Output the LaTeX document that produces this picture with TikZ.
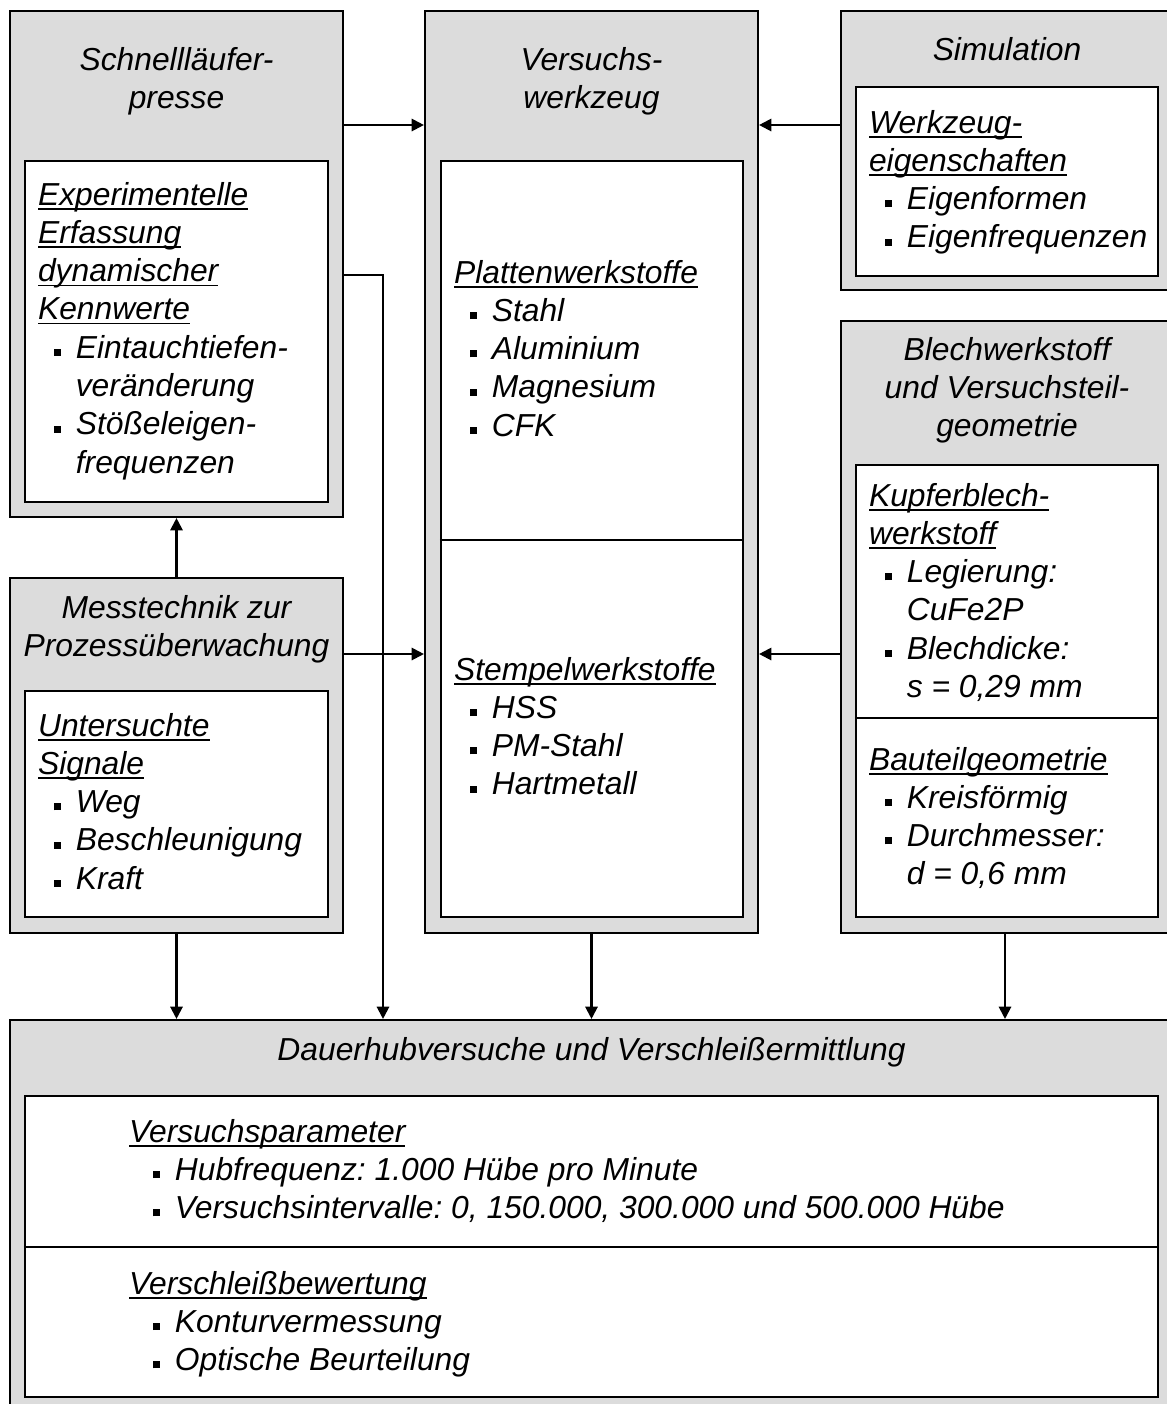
\documentclass[tikz,border=0pt]{standalone}
\usepackage{fontspec}
\setmainfont{Liberation Sans}
\usetikzlibrary{arrows.meta,fit,calc}
\definecolor{boxgray}{RGB}{220,220,220}
\frenchspacing
\newcommand{\bul}[1][9.2pt]{\hspace*{#1}\rule[1.3pt]{4pt}{4pt}\hspace*{8.3pt}}
\newcommand{\bulw}{\bul[13.8pt]}
\newcommand{\cont}{\hspace*{21.5pt}}
\newcommand{\ul}[1]{\setbox0\hbox{#1}\rlap{\rule[-2.6pt]{\wd0}{0.9pt}}\box0}
\newcommand{\txtblock}[2][l]{\begin{tabular}[t]{@{}#1@{}}#2\end{tabular}}

\begin{document}
\begin{tikzpicture}[x=0.02cm, y=-0.02cm, line width=1.2pt,
    frame/.style={draw, fill=boxgray, inner sep=0pt},
    panel/.style={draw, fill=white, inner sep=0pt},
    txt/.style={inner sep=0pt, font=\fontsize{18.1}{21.8}\selectfont\itshape},
    arr/.style={-{Triangle[length=7pt,width=7pt]}}]
  \useasboundingbox (0,0) rectangle (1167,1404);
  % Grey outer frames
  \node[frame, fit={(10,11) (343,517)}] (press) {};
  \node[frame, fit={(425,11) (758,933)}] (tool) {};
  \node[frame, fit={(841,11) (1169,290)}] (sim) {};
  \node[frame, fit={(841,321) (1169,933)}] (sheet) {};
  \node[frame, fit={(10,578) (343,933)}] (meas) {};
  \node[frame, fit={(10,1020) (1169,1406)}] (wear) {};
  % White inner panels
  \node[panel, fit={(25,161) (328,502)}] (pressIn) {};
  \node[panel, fit={(441,161) (743,917)}] (toolIn) {};
  \node[panel, fit={(856,87) (1158,276)}] (simIn) {};
  \node[panel, fit={(856,465) (1158,917)}] (sheetIn) {};
  \node[panel, fit={(25,691) (328,917)}] (measIn) {};
  \node[panel, fit={(25,1096) (1158,1397)}] (wearIn) {};
  % Dividers inside the panels
  \draw (toolIn.west |- 0,540) -- (toolIn.east |- 0,540);
  \draw (sheetIn.west |- 0,718) -- (sheetIn.east |- 0,718);
  \draw (wearIn.west |- 0,1247) -- (wearIn.east |- 0,1247);
  % Headers
  \node[txt, anchor=base] (pressHead) at (176.5,70) {\txtblock[c]{Schnellläufer-\\presse}};
  \node[txt, anchor=base] (toolHead) at (591.5,70) {\txtblock[c]{Versuchs-\\werkzeug}};
  \node[txt, anchor=base] (simHead) at (1007,60) {\txtblock[c]{Simulation}};
  \node[txt, anchor=base] (sheetHead) at (1007,360) {\txtblock[c]{Blechwerkstoff\\und Versuchsteil-\\geometrie}};
  \node[txt, anchor=base] (measHead) at (176.5,618) {\txtblock[c]{Messtechnik zur\\Prozessüberwachung}};
  \node[txt, anchor=base] (wearHead) at (591.5,1060) {\txtblock[c]{Dauerhubversuche und Verschleißermittlung}};
  % Panel contents
  \node[txt, anchor=base west] (pressList) at (37,205) {\txtblock{%
    \ul{Experimentelle}\\ \ul{Erfassung}\\ \ul{dynamischer}\\ \ul{Kennwerte}\\
    \bul Eintauchtiefen-\\ \cont veränderung\\ \bul Stößeleigen-\\ \cont frequenzen}};
  \node[txt, anchor=base west] (plateList) at (453,283) {\txtblock{%
    \ul{Plattenwerkstoffe}\\ \bul Stahl\\ \bul Aluminium\\ \bul Magnesium\\ \bul CFK}};
  \node[txt, anchor=base west] (punchList) at (453,680) {\txtblock{%
    \ul{Stempelwerkstoffe}\\ \bul HSS\\ \bul PM-Stahl\\ \bul Hartmetall}};
  \node[txt, anchor=base west] (simList) at (868,133) {\txtblock{%
    \ul{Werkzeug-}\\ \ul{eigenschaften}\\ \bul Eigenformen\\ \bul Eigenfrequenzen}};
  \node[txt, anchor=base west] (copperList) at (868,506) {\txtblock{%
    \ul{Kupferblech-}\\ \ul{werkstoff}\\ \bul Legierung:\\ \cont CuFe2P\\
    \bul Blechdicke:\\ \cont s = 0,29 mm}};
  \node[txt, anchor=base west] (partList) at (868,770) {\txtblock{%
    \ul{Bauteilgeometrie}\\ \bul Kreisförmig\\ \bul Durchmesser:\\ \cont d = 0,6 mm}};
  \node[txt, anchor=base west] (signalList) at (37,736) {\txtblock{%
    \ul{Untersuchte}\\ \ul{Signale}\\ \bul Weg\\ \bul Beschleunigung\\ \bul Kraft}};
  \node[txt, anchor=base west] (paramList) at (128,1142) {\txtblock{%
    \ul{Versuchsparameter}\\ \bulw Hubfrequenz: 1.000 Hübe pro Minute\\
    \bulw Versuchsintervalle: 0, 150.000, 300.000 und 500.000 Hübe}};
  \node[txt, anchor=base west] (ratingList) at (128,1294) {\txtblock{%
    \ul{Verschleißbewertung}\\ \bulw Konturvermessung\\ \bulw Optische Beurteilung}};
  % Connectors
  \coordinate (upper) at (0,125);
  \coordinate (lower) at (0,654);
  \coordinate (bend) at (383,275);
  \draw[arr] (press.east |- upper) -- (tool.west |- upper);
  \draw[arr] (sim.west |- upper) -- (tool.east |- upper);
  \draw[arr] (meas.east |- lower) -- (tool.west |- lower);
  \draw[arr] (sheet.west |- lower) -- (tool.east |- lower);
  \draw[arr] (meas.north) -- (press.south);
  \draw[arr] (press.east |- bend) -| (wear.north -| bend);
  \draw[arr] (meas.south) -- (meas.south |- wear.north);
  \draw[arr] (tool.south) -- (tool.south |- wear.north);
  \draw[arr] (sheet.south) -- (sheet.south |- wear.north);
\end{tikzpicture}
\end{document}
